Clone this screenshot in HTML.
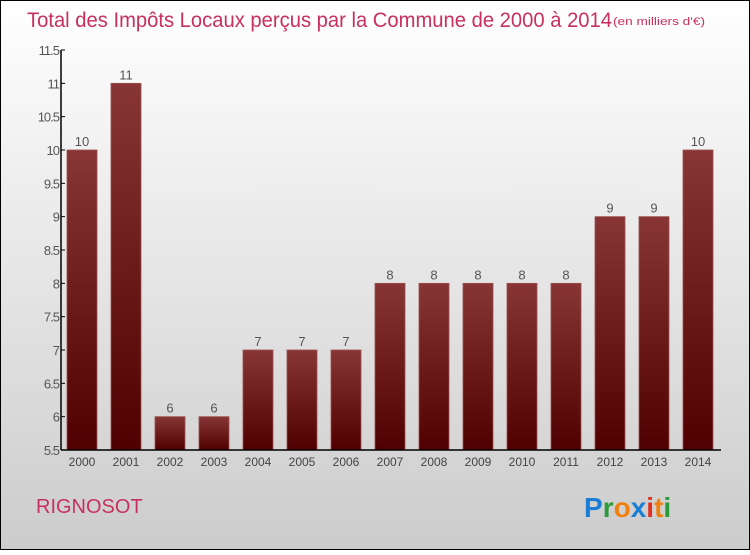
<!DOCTYPE html>
<html><head><meta charset="utf-8"><style>
html,body{margin:0;padding:0}
body{width:750px;height:550px;overflow:hidden;font-family:"Liberation Sans",sans-serif}
</style></head><body>
<svg width="750" height="550" viewBox="0 0 750 550">
<defs>
<linearGradient id="bg" x1="0" y1="0" x2="0" y2="1"><stop offset="0" stop-color="#ffffff"/><stop offset="1" stop-color="#cccccc"/></linearGradient>
<linearGradient id="bar" x1="0" y1="0" x2="0" y2="1"><stop offset="0" stop-color="#883535"/><stop offset="1" stop-color="#500000"/></linearGradient>
</defs>
<rect x="0.5" y="0.5" width="749" height="549" fill="url(#bg)" stroke="#000"/>
<text x="27" y="27" font-size="21" fill="#c8305e" textLength="585" lengthAdjust="spacingAndGlyphs">Total des Impôts Locaux perçus par la Commune de 2000 à 2014</text>
<text x="613" y="25" font-size="11" fill="#c8305e" textLength="92" lengthAdjust="spacingAndGlyphs">(en milliers d'€)</text>
<g id="yaxis"></g>
<g id="bars"></g>
<g id="xaxis"></g>
<text x="36" y="513" font-size="20" fill="#c8305e">RIGNOSOT</text>
<g font-size="28" font-weight="bold" font-family="Liberation Sans, sans-serif">
<text x="584" y="517"><tspan fill="#1a7fd4">P</tspan><tspan fill="#2a9a3a">r</tspan><tspan fill="#f08010">o</tspan><tspan fill="#1a7fd4">x</tspan><tspan fill="#e03020">i</tspan><tspan fill="#f08010">t</tspan><tspan fill="#2a9a3a">i</tspan></text>
</g>
</svg>
<script>
const years=["2000","2001","2002","2003","2004","2005","2006","2007","2008","2009","2010","2011","2012","2013","2014"];
const values=[10,11,6,6,7,7,7,8,8,8,8,8,9,9,10];
const yTicks=["5.5","6","6.5","7","7.5","8","8.5","9","9.5","10","10.5","11","11.5"];
const NS="http://www.w3.org/2000/svg";
const yMin=5.5,yMax=11.5,plotTop=50,plotBot=450,plotLeft=61,plotRight=721;
const yScale=v=>plotBot-(v-yMin)/(yMax-yMin)*(plotBot-plotTop);
const step=44,x0=82;
const xScale=i=>x0+i*step;
function mk(tag,at,parent){const e=document.createElementNS(NS,tag);for(const k in at)e.setAttribute(k,at[k]);parent.appendChild(e);return e;}
const ya=document.getElementById('yaxis'),ba=document.getElementById('bars'),xa=document.getElementById('xaxis');
const l=mk('line',{x1:plotLeft,y1:plotTop,x2:plotLeft,y2:plotBot,stroke:'#000','stroke-width':1.5},ya);


yTicks.forEach(t=>{const v=parseFloat(t),yy=yScale(v);
 const tk=mk('line',{x1:plotLeft,y1:yy,x2:plotLeft+4,y2:yy,stroke:'#000'},ya);
 
 
 const tx=mk('text',{x:plotLeft-2,y:yy+5,'text-anchor':'end','font-size':13,fill:'#555','letter-spacing':'-1'},ya);
 tx.textContent=t;
 
 
});
const xl=mk('line',{x1:plotLeft,y1:plotBot,x2:plotRight,y2:plotBot,stroke:'#000','stroke-width':1.5},xa);


years.forEach((yr,i)=>{const v=values[i],cx=xScale(i);
 const r=mk('rect',{x:cx-15,y:yScale(v),width:30,height:plotBot-yScale(v),fill:'url(#bar)',stroke:'#9a5050','stroke-width':0.8},ba);
 
 
 const vl=mk('text',{x:cx,y:yScale(v)-4,'text-anchor':'middle','font-size':13,fill:'#555'},ba);
 vl.textContent=v;
 
 
 const tl=mk('text',{x:cx,y:plotBot+16,'text-anchor':'middle','font-size':12,fill:'#444'},xa);
 tl.textContent=yr;
 
 
});
</script>
</body></html>
